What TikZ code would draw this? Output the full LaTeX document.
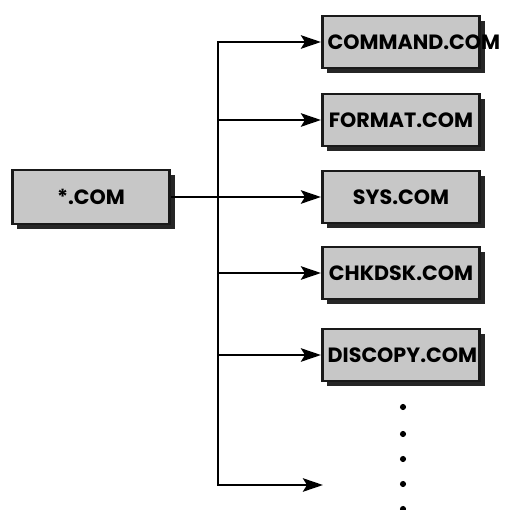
\documentclass[tikz,border=0pt]{standalone}
\usepackage{fontspec}
\newfontfamily\boxfont{Poppins}
\usetikzlibrary{arrows.meta,shadows}

\tikzset{
  >={Stealth[length=15pt,width=10pt,inset=3pt]},
  filebox/.style={draw=black!90, line width=2pt, fill=black!22,
    minimum width=118pt, minimum height=39pt, inner xsep=4pt, inner ysep=0pt,
    text width=110pt, align=center,
    font=\boxfont\bfseries\fontsize{15.5}{18}\selectfont,
    drop shadow={shadow xshift=3.8pt, shadow yshift=-3.8pt, fill=black!85, opacity=1}},
  wire/.style={line width=2.2pt, line join=miter},
}

\begin{document}
\begin{tikzpicture}[x=0.75pt, y=-0.75pt]
  \useasboundingbox (0,0) rectangle (514,510);

  \def\bus{218}
  \def\tx{401}

  \node[filebox, minimum height=40.5pt] (src) at (91,197) {*.COM};

  \node[filebox] (command) at (\tx,42) {COMMAND.COM};
  \node[filebox] (format) at (\tx,120) {FORMAT.COM};
  \node[filebox] (sys) at (\tx,197) {SYS.COM};
  \node[filebox] (chkdsk) at (\tx,273) {CHKDSK.COM};
  \node[filebox] (discopy) at (\tx,355) {DISCOPY.COM};

  \coordinate (top) at (\bus,42);
  \coordinate (bot) at (\bus,485);
  \coordinate (more) at (323,485);

  % trunk with first and last branch
  \draw[wire, <->] (more) -- (bot) -- (top) -- (command.west);
  \draw[wire, ->] (src.east) -- (sys.west);
  \draw[wire, ->] (format.west -| top) -- (format.west);
  \draw[wire, ->] (chkdsk.west -| top) -- (chkdsk.west);
  \draw[wire, ->] (discopy.west -| top) -- (discopy.west);

  \foreach \y in {407,434,459,484,509}
    \fill (403,\y) circle (2.3pt);
\end{tikzpicture}
\end{document}
